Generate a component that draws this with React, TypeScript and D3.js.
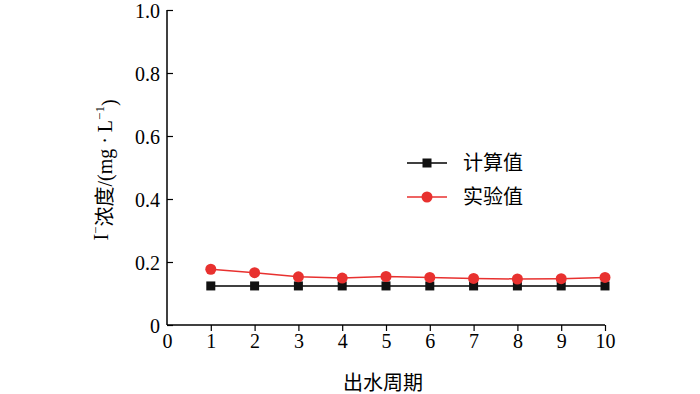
import { useEffect, useRef } from "react";
import * as d3 from "d3";

const periods = [1, 2, 3, 4, 5, 6, 7, 8, 9, 10];
const calculated = [0.124, 0.124, 0.124, 0.124, 0.124, 0.124, 0.124, 0.124, 0.124, 0.124];
const measured = [0.177, 0.166, 0.153, 0.149, 0.154, 0.151, 0.148, 0.146, 0.147, 0.151];
const xTicks = [0, 1, 2, 3, 4, 5, 6, 7, 8, 9, 10];
const yTicks = [0, 0.2, 0.4, 0.6, 0.8, 1.0];
const seriesNames = ["计算值", "实验值"];

const FONT = "'Liberation Serif', 'Times New Roman', 'Noto Sans CJK SC', serif";

export default function App() {
  const svgRef = useRef<SVGSVGElement>(null);

  useEffect(() => {
    document.body.style.margin = "0";
    if (!svgRef.current) return;
    const svg = d3.select(svgRef.current);
    svg.selectAll("*").remove();

    const x = d3.scaleLinear().domain([0, 10]).range([167, 605]);
    const y = d3.scaleLinear().domain([0, 1]).range([325, 10]);

    // y axis, ticks pointing inward
    const yAxis = svg.append("g").attr("transform", "translate(167,0)");
    yAxis
      .call(d3.axisRight(y).tickValues(yTicks).tickSize(6).tickFormat((d) => (d === 0 ? "0" : d3.format(".1f")(d as number))))
      .call((g) => g.select(".domain").attr("stroke", "#000").attr("stroke-width", 1.5).attr("d", `M0,${y(0)}V${y(1)}`));
    yAxis.selectAll(".tick line").attr("stroke", "#000").attr("stroke-width", 1.2);
    yAxis
      .selectAll(".tick text")
      .attr("x", -7)
      .attr("text-anchor", "end")
      .attr("dy", "0.35em")
      .attr("font-family", FONT)
      .attr("font-size", 20)
      .attr("fill", "#000");

    // x axis, ticks pointing outward
    const xAxis = svg.append("g").attr("transform", `translate(0,${y(0)})`);
    xAxis
      .call(d3.axisBottom(x).tickValues(xTicks).tickSize(6).tickFormat(d3.format("d")))
      .call((g) => g.select(".domain").attr("stroke", "#000").attr("stroke-width", 1.5).attr("d", `M${x(0)},0H${x(10)}`));
    xAxis.selectAll(".tick line").attr("stroke", "#000").attr("stroke-width", 1.2);
    xAxis.selectAll(".tick").filter((d) => d === 0).select("line").remove();
    xAxis
      .selectAll(".tick text")
      .attr("y", 9)
      .attr("dy", "0.71em")
      .attr("font-family", FONT)
      .attr("font-size", 20)
      .attr("fill", "#000");

    const line = d3
      .line<number>()
      .x((_, i) => x(periods[i]))
      .y((d) => y(d));

    // calculated series
    svg.append("path").datum(calculated).attr("d", line).attr("fill", "none").attr("stroke", "#000").attr("stroke-width", 1.5);
    svg
      .selectAll("rect.calc")
      .data(calculated)
      .enter()
      .append("rect")
      .attr("x", (_, i) => x(periods[i]) - 4.5)
      .attr("y", (d) => y(d) - 4.5)
      .attr("width", 9)
      .attr("height", 9)
      .attr("fill", "#111");

    // measured series
    svg.append("path").datum(measured).attr("d", line).attr("fill", "none").attr("stroke", "#e8312f").attr("stroke-width", 1.5);
    svg
      .selectAll("circle.meas")
      .data(measured)
      .enter()
      .append("circle")
      .attr("cx", (_, i) => x(periods[i]))
      .attr("cy", (d) => y(d))
      .attr("r", 5.5)
      .attr("fill", "#e8312f");

    // legend
    const legend = svg.append("g");
    const colors = ["#000", "#e8312f"];
    seriesNames.forEach((name, i) => {
      const ly = 163 + i * 34;
      legend.append("line").attr("x1", 407).attr("x2", 447).attr("y1", ly).attr("y2", ly).attr("stroke", colors[i]).attr("stroke-width", 1.5);
      if (i === 0) {
        legend.append("rect").attr("x", 422.5).attr("y", ly - 4.5).attr("width", 9).attr("height", 9).attr("fill", "#111");
      } else {
        legend.append("circle").attr("cx", 427).attr("cy", ly).attr("r", 5.5).attr("fill", colors[i]);
      }
      legend
        .append("text")
        .attr("x", 463)
        .attr("y", ly)
        .attr("dy", "0.35em")
        .attr("font-family", FONT)
        .attr("font-size", 20)
        .attr("fill", "#000")
        .text(name);
    });

    // axis titles
    svg
      .append("text")
      .attr("x", 383)
      .attr("y", 383)
      .attr("dy", "0.35em")
      .attr("text-anchor", "middle")
      .attr("font-family", FONT)
      .attr("font-size", 20)
      .attr("fill", "#000")
      .text("出水周期");

    const yTitle = svg
      .append("text")
      .attr("transform", "translate(101,170) rotate(-90)")
      .attr("dy", "0.35em")
      .attr("text-anchor", "middle")
      .attr("font-family", FONT)
      .attr("font-size", 20)
      .attr("fill", "#000");
    yTitle.append("tspan").text("I");
    yTitle.append("tspan").attr("font-size", 13).attr("dy", "-0.6em").text("−");
    yTitle.append("tspan").attr("dy", "0.6em").text("浓度/(mg · L");
    yTitle.append("tspan").attr("font-size", 13).attr("dy", "-0.6em").text("−1");
    yTitle.append("tspan").attr("dy", "0.6em").text(")");
  }, []);

  return (
    <svg
      ref={svgRef}
      width={700}
      height={394}
      style={{ display: "block", background: "#fff", overflow: "visible" }}
    />
  );
}
